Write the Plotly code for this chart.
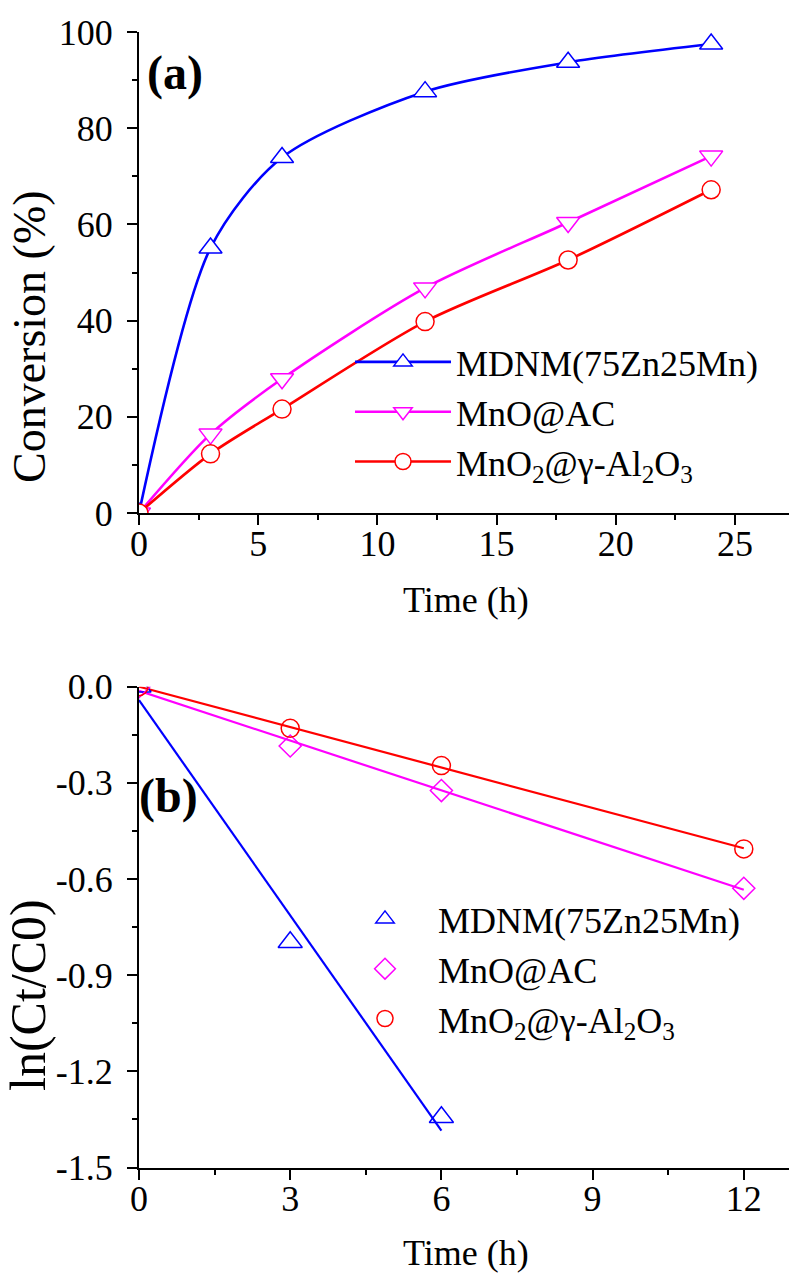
import numpy as np
import plotly.graph_objects as go

W, H = 789, 1273
FONT = "Liberation Serif, Times New Roman, serif"

# ---- panel (a): conversion vs time ----
time_a = [0, 3, 6, 12, 18, 24]
conv_mdnm = [0, 55.1, 73.9, 87.6, 93.7, 97.5]
conv_mnoac = [0, 16.4, 27.9, 46.8, 60.4, 74.2]
conv_mno2 = [0, 12.3, 21.6, 39.8, 52.6, 67.2]
xticks_a = [0, 5, 10, 15, 20, 25]
yticks_a = [0, 20, 40, 60, 80, 100]

# ---- panel (b): first-order kinetics ----
time_b_mdnm = [0, 3, 6]
ln_mdnm = [0, -0.797, -1.343]
time_b = [0, 3, 6, 12]
ln_mnoac = [0, -0.185, -0.324, -0.629]
ln_mno2 = [0, -0.130, -0.246, -0.506]
xticks_b = [0, 3, 6, 9, 12]
yticks_b = [0.0, -0.3, -0.6, -0.9, -1.2, -1.5]
yticklabels_b = ["0.0", "-0.3", "-0.6", "-0.9", "-1.2", "-1.5"]

names = ["MDNM(75Zn25Mn)", "MnO@AC",
         "MnO<sub>2</sub>@γ-Al<sub>2</sub>O<sub>3</sub>"]
colors = ["#0000FF", "#FF00FF", "#FF0000"]


def px_x(p):
    return p / W


def px_y(p):
    return 1 - p / H


# plot areas in pixels
LEFT, RIGHT = 139, 789
A_TOP, A_BOT = 32, 513
B_TOP, B_BOT = 686.7, 1167.5

fig = go.Figure()

# (a) smoothed curves with open markers
for y, name, col, sym in zip([conv_mdnm, conv_mnoac, conv_mno2], names, colors,
                             ["triangle-up", "triangle-down", "circle"]):
    size = 18 if sym == "circle" else 20
    fig.add_trace(go.Scatter(
        x=time_a, y=y, name=name, mode="lines+markers",
        line=dict(color=col, width=2.6, shape="spline", smoothing=0.8),
        marker=dict(symbol=sym, size=size, color="white",
                    line=dict(color=col, width=1.5)),
        xaxis="x", yaxis="y", legend="legend"))

# (b) data points and least-squares lines
b_sets = [(time_b_mdnm, ln_mdnm, "triangle-up", 21),
          (time_b, ln_mnoac, "diamond", 17),
          (time_b, ln_mno2, "circle", 18)]
for (t, y, sym, size), name, col in zip(b_sets, names, colors):
    slope, icpt = np.polyfit(t, y, 1)
    t_fit = np.array([t[0], t[-1]], dtype=float)
    fig.add_trace(go.Scatter(
        x=t_fit, y=slope * t_fit + icpt, mode="lines", showlegend=False,
        line=dict(color=col, width=2.2), xaxis="x2", yaxis="y2",
        hoverinfo="skip"))
for (t, y, sym, size), name, col in zip(b_sets, names, colors):
    fig.add_trace(go.Scatter(
        x=t, y=y, name=name, mode="markers",
        marker=dict(symbol=sym, size=size, color="rgba(255,255,255,0)",
                    line=dict(color=col, width=1.5)),
        xaxis="x2", yaxis="y2", legend="legend2"))

tickfont = dict(family=FONT, size=36, color="black")
common = dict(showline=True, linecolor="black", linewidth=2, showgrid=False,
              zeroline=False, ticks="outside", ticklen=10, tickwidth=2,
              tickcolor="black", tickfont=tickfont, automargin=False)
minor = dict(ticks="outside", ticklen=5, tickwidth=2, tickcolor="black",
             showgrid=False)
xcommon = dict(ticklabelstandoff=-12, **common)
ycommon = dict(ticklabelstandoff=7, **common)
top_axis = dict(side="top", range=[0, RIGHT - LEFT], tick0=0, dtick=65.7,
                ticks="inside", ticklen=4, tickwidth=1.5, tickcolor="black",
                showline=True, linecolor="black", linewidth=2,
                showticklabels=False, showgrid=False, zeroline=False,
                automargin=False)

xdom = [px_x(LEFT), px_x(RIGHT)]
legend_font = dict(family=FONT, size=36, color="black")
fig.update_layout(
    width=W, height=H, margin=dict(l=0, r=0, t=0, b=0, autoexpand=False),
    plot_bgcolor="white", paper_bgcolor="white",
    font=dict(family=FONT, color="black"),
    xaxis=dict(domain=xdom, range=[0, (RIGHT - LEFT) / 23.84], anchor="y",
               tickvals=xticks_a, minor=dict(dtick=2.5, tick0=0, **minor),
               **xcommon),
    yaxis=dict(domain=[px_y(A_BOT), px_y(A_TOP)], range=[0, 100], anchor="x",
               tickvals=yticks_a, minor=dict(dtick=10, tick0=0, **minor),
               **ycommon),
    xaxis3=dict(domain=xdom, overlaying="x", anchor="y", **top_axis),
    xaxis2=dict(domain=xdom, range=[0, (RIGHT - LEFT) / 50.4], anchor="y2",
                tickvals=xticks_b, minor=dict(dtick=1.5, tick0=0, **minor),
                **xcommon),
    yaxis2=dict(domain=[px_y(B_BOT), px_y(B_TOP)], range=[-1.5, 0],
                anchor="x2", tickvals=yticks_b, ticktext=yticklabels_b,
                minor=dict(dtick=0.15, tick0=0, **minor), **ycommon),
    xaxis4=dict(domain=xdom, overlaying="x2", anchor="y2", **top_axis),
    legend=dict(x=px_x(350), y=px_y(332), xanchor="left", yanchor="top",
                font=legend_font, bgcolor="rgba(0,0,0,0)", itemwidth=96,
                tracegroupgap=0),
    legend2=dict(x=px_x(332), y=px_y(889), xanchor="left", yanchor="top",
                 font=legend_font, bgcolor="rgba(0,0,0,0)", itemwidth=96,
                 tracegroupgap=0),
    showlegend=True,
)

ann = dict(showarrow=False, xref="paper", yref="paper", xanchor="center",
           yanchor="middle")


def f(size, **kw):
    return dict(family=FONT, size=size, color="black", **kw)


fig.add_annotation(text="<b>(a)</b>", x=px_x(175), y=px_y(73), font=f(48),
                   **ann)
fig.add_annotation(text="<b>(b)</b>", x=px_x(168), y=px_y(796), font=f(48),
                   **ann)
fig.add_annotation(text="Conversion (%)", textangle=-90, x=px_x(29),
                   y=px_y(337), font=f(46), **ann)
fig.add_annotation(text="ln(Ct/C0)", textangle=-90, x=px_x(28), y=px_y(995),
                   font=f(50), **ann)
fig.add_annotation(text="Time (h)", x=px_x(466), y=px_y(600), font=f(36),
                   **ann)
fig.add_annotation(text="Time (h)", x=px_x(466), y=px_y(1253), font=f(36),
                   **ann)

fig.write_html("out.html")
